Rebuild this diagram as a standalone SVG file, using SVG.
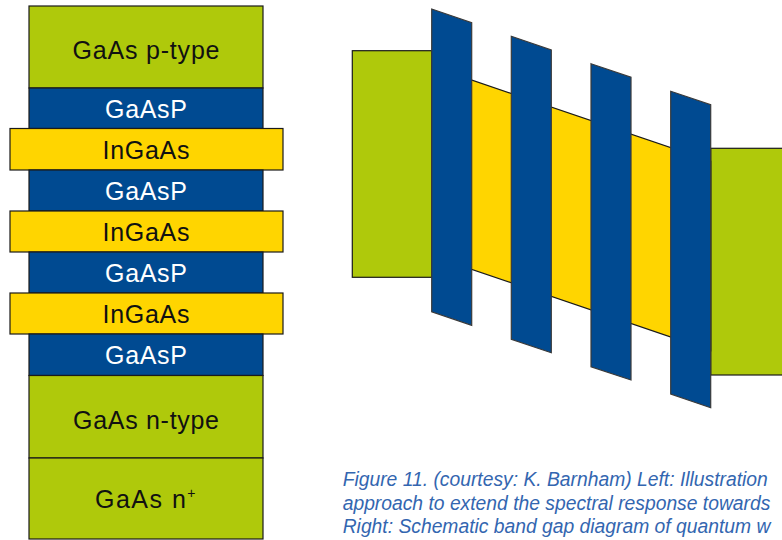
<svg xmlns="http://www.w3.org/2000/svg" width="782" height="540" viewBox="0 0 782 540">
<style>
.g{fill:#afc90b;stroke:#1a1a1a;stroke-width:1.2}
.b{fill:#004a91;stroke:#1a1a1a;stroke-width:1.2}
.y{fill:#ffd500;stroke:#1a1a1a;stroke-width:1.2}
.bar{fill:#004a91;stroke:#3a3a3a;stroke-width:1.2}
.t{font-family:"Liberation Sans",Arial,sans-serif;font-size:25px;text-anchor:middle}
.dk{fill:#111}
.wt{fill:#ffffff}
.cap{font-family:"Liberation Sans",Arial,sans-serif;font-size:19.3px;font-style:italic;fill:#3366b0}
</style>
<rect width="782" height="540" fill="#ffffff"/>
<g id="stack">
<g id="p-type"><rect class="g" x="29" y="6" width="234" height="82"/><text class="t dk" x="146" y="59" textLength="147" lengthAdjust="spacing">GaAs p-type</text></g>
<g id="gaasp1"><rect class="b" x="29" y="88" width="234" height="40.5"/><text class="t wt" x="146" y="118" textLength="82" lengthAdjust="spacing">GaAsP</text></g>
<g id="ingaas1"><rect class="y" x="10" y="128.5" width="273" height="41.5"/><text class="t dk" x="146" y="159" textLength="87" lengthAdjust="spacing">InGaAs</text></g>
<g id="gaasp2"><rect class="b" x="29" y="170" width="234" height="41"/><text class="t wt" x="146" y="200" textLength="82" lengthAdjust="spacing">GaAsP</text></g>
<g id="ingaas2"><rect class="y" x="10" y="211" width="273" height="41"/><text class="t dk" x="146" y="241" textLength="87" lengthAdjust="spacing">InGaAs</text></g>
<g id="gaasp3"><rect class="b" x="29" y="252" width="234" height="41"/><text class="t wt" x="146" y="282" textLength="82" lengthAdjust="spacing">GaAsP</text></g>
<g id="ingaas3"><rect class="y" x="10" y="293" width="273" height="41"/><text class="t dk" x="146" y="323" textLength="87" lengthAdjust="spacing">InGaAs</text></g>
<g id="gaasp4"><rect class="b" x="29" y="334" width="234" height="41.5"/><text class="t wt" x="146" y="364" textLength="82" lengthAdjust="spacing">GaAsP</text></g>
<g id="n-type"><rect class="g" x="29" y="375.5" width="234" height="82.5"/><text class="t dk" x="146" y="429" textLength="146" lengthAdjust="spacing">GaAs n-type</text></g>
<g id="n-plus"><rect class="g" x="29" y="458" width="234" height="81"/><text class="t dk" x="146" y="508" style="letter-spacing:1.5px">GaAs n<tspan font-size="14" dy="-10">+</tspan></text></g>
</g>
<g id="bandgap">
<g id="left-green"><rect class="g" x="352.3" y="50.7" width="79.4" height="226.6"/></g>
<g id="right-green"><rect class="g" x="710.7" y="148.3" width="80" height="226.7"/></g>
<g id="wells"><polygon class="y" points="431.7,66.4 710.7,161.3 710.7,350.6 431.7,255.7"/></g>
<g id="barrier1"><polygon class="bar" points="431.7,9 471.7,22.7 471.7,325.3 431.7,311.7"/></g>
<g id="barrier2"><polygon class="bar" points="511.3,36.3 551.3,50 551.3,352.7 511.3,339.3"/></g>
<g id="barrier3"><polygon class="bar" points="591,63.7 631,77.3 631,380 591,366.7"/></g>
<g id="barrier4"><polygon class="bar" points="670.7,91.3 710.7,104.7 710.7,407.7 670.7,394"/></g>
</g>
<g id="caption">
<text class="cap" x="342.7" y="486">Figure 11. (courtesy: K. Barnham) Left: Illustration</text>
<text class="cap" x="342.7" y="509.5">approach to extend the spectral response towards</text>
<text class="cap" x="342.7" y="533">Right: Schematic band gap diagram of quantum w</text>
</g>
</svg>
